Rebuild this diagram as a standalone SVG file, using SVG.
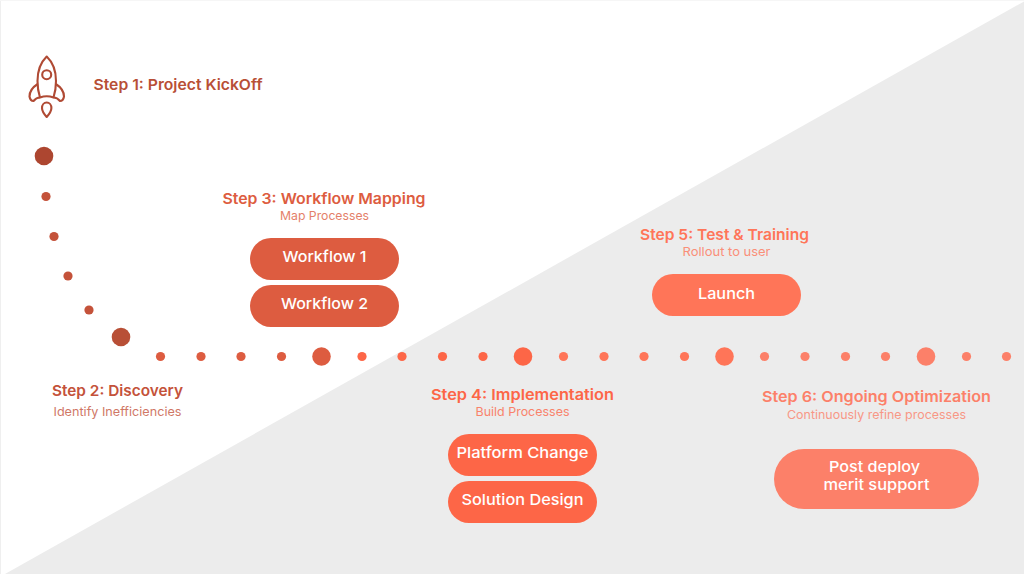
<svg xmlns="http://www.w3.org/2000/svg" width="1024" height="574" viewBox="0 0 1024 574">
<style>
text{font-family:Inter,"Open Sans","Liberation Sans",sans-serif;text-anchor:middle}
.h{font-size:15px;font-weight:600}
.s{font-size:12px;font-weight:400;opacity:.78}
.b{font-size:15px;font-weight:500;fill:#fff}
.c1{fill:#ad4630}.c1b{fill:#b84f36}.c1c{fill:#c4523a}.c2{fill:#dd5c40}.c3{fill:#fd6647}.c4{fill:#ff7558}.c5{fill:#fc8069}
</style>
<rect width="1024" height="574" fill="#fff"/>
<rect width="1" height="574" fill="#efefef"/>
<rect width="1024" height="1" fill="#f6f6f6"/>
<polygon points="1024,1.500 1024,574 5,574" fill="#ececec"/>
<g id="connectors">
<circle class="c1" cx="44" cy="156" r="9.300"/>
<circle class="c1c" cx="46" cy="196.500" r="4.600"/>
<circle class="c1c" cx="54" cy="236.500" r="4.600"/>
<circle class="c1c" cx="68" cy="276" r="4.600"/>
<circle class="c1c" cx="89" cy="310" r="4.600"/>
<circle class="c1b" cx="121" cy="337" r="9.300"/>
<circle class="c2" cx="160.500" cy="356.500" r="4.600"/>
<circle class="c2" cx="201" cy="356.500" r="4.600"/>
<circle class="c2" cx="241" cy="356.500" r="4.600"/>
<circle class="c2" cx="281.500" cy="356.500" r="4.600"/>
<circle class="c2" cx="321.500" cy="356.500" r="9.300"/>
<circle class="c3" cx="362" cy="356.500" r="4.600"/>
<circle class="c3" cx="402" cy="356.500" r="4.600"/>
<circle class="c3" cx="442.500" cy="356.500" r="4.600"/>
<circle class="c3" cx="483" cy="356.500" r="4.600"/>
<circle class="c3" cx="523" cy="356.500" r="9.300"/>
<circle class="c4" cx="563.500" cy="356.500" r="4.600"/>
<circle class="c4" cx="604" cy="356.500" r="4.600"/>
<circle class="c4" cx="644" cy="356.500" r="4.600"/>
<circle class="c4" cx="684.500" cy="356.500" r="4.600"/>
<circle class="c4" cx="724.500" cy="356.500" r="9.300"/>
<circle class="c5" cx="764.500" cy="356.500" r="4.600"/>
<circle class="c5" cx="805" cy="356.500" r="4.600"/>
<circle class="c5" cx="845.500" cy="356.500" r="4.600"/>
<circle class="c5" cx="885.500" cy="356.500" r="4.600"/>
<circle class="c5" cx="926" cy="356.500" r="9.300"/>
<circle class="c5" cx="966.500" cy="356.500" r="4.600"/>
<circle class="c5" cx="1006.500" cy="356.500" r="4.600"/>
</g>
<g id="step1">
<g fill="none" stroke="#b04a34" stroke-width="2.100" stroke-linejoin="round">
<path d="M46.700 56.500C41 62 37.500 71 37.500 81C37.500 87 38.500 93 40 97.500C44 96 49.500 96 53.500 97.500C55 93 56 87 56 81C56 71 52.500 62 46.700 56.500Z"/>
<circle cx="46.700" cy="74.700" r="4.500"/>
<path d="M37.700 84C33 87 29.500 92 29.500 96.500C30 99.500 31.500 101 33.500 101C35.500 98.500 37.500 97.500 40 97.500"/>
<path d="M55.800 84C60.500 87 64 92 64 96.500C63.500 99.500 62 101 60 101C58 98.500 56 97.500 53.500 97.500"/>
<path d="M46.700 117C44 114 42 111.500 42 108C42 105 44 102.500 46.700 102.500C49.400 102.500 51.400 105 51.400 108C51.400 111.500 49.400 114 46.700 117Z"/>
</g>
<text class="h c1b" x="178" y="89.500" textLength="169" lengthAdjust="spacingAndGlyphs">Step 1: Project KickOff</text>
</g>
<g id="step2">
<text class="h c1c" x="117.500" y="396" textLength="131" lengthAdjust="spacingAndGlyphs">Step 2: Discovery</text>
<text class="s c1c" x="117.500" y="416" textLength="128" lengthAdjust="spacingAndGlyphs">Identify Inefficiencies</text>
</g>
<g id="step3">
<text class="h c2" x="324" y="203.500" textLength="203" lengthAdjust="spacingAndGlyphs">Step 3: Workflow Mapping</text>
<text class="s c2" x="324.500" y="220" textLength="89" lengthAdjust="spacingAndGlyphs">Map Processes</text>
<rect class="c2" x="250" y="238" width="149" height="42" rx="21"/>
<text class="b" x="324.500" y="262" textLength="84" lengthAdjust="spacingAndGlyphs">Workflow 1</text>
<rect class="c2" x="250" y="285" width="149" height="42" rx="21"/>
<text class="b" x="324.500" y="309" textLength="87" lengthAdjust="spacingAndGlyphs">Workflow 2</text>
</g>
<g id="step4">
<text class="h c3" x="522.500" y="399.500" textLength="183" lengthAdjust="spacingAndGlyphs">Step 4: Implementation</text>
<text class="s c3" x="522.500" y="416" textLength="94" lengthAdjust="spacingAndGlyphs">Build Processes</text>
<rect class="c3" x="448" y="434" width="149" height="42" rx="21"/>
<text class="b" x="522.500" y="458" textLength="132" lengthAdjust="spacingAndGlyphs">Platform Change</text>
<rect class="c3" x="448" y="481" width="149" height="42" rx="21"/>
<text class="b" x="522.500" y="505" textLength="122" lengthAdjust="spacingAndGlyphs">Solution Design</text>
</g>
<g id="step5">
<text class="h c4" x="724.500" y="239.500" textLength="169" lengthAdjust="spacingAndGlyphs">Step 5: Test &amp; Training</text>
<text class="s c4" x="726.500" y="256" textLength="88" lengthAdjust="spacingAndGlyphs">Rollout to user</text>
<rect class="c4" x="652" y="274" width="149" height="42" rx="21"/>
<text class="b" x="726.500" y="298.500" textLength="57" lengthAdjust="spacingAndGlyphs">Launch</text>
</g>
<g id="step6">
<text class="h c5" x="876.500" y="401.500" textLength="229" lengthAdjust="spacingAndGlyphs">Step 6: Ongoing Optimization</text>
<text class="s c5" x="876.500" y="418.500" textLength="179" lengthAdjust="spacingAndGlyphs">Continuously refine processes</text>
<rect class="c5" x="774" y="449" width="205" height="60" rx="30"/>
<text class="b" x="874.500" y="472" textLength="91" lengthAdjust="spacingAndGlyphs">Post deploy</text>
<text class="b" x="876.500" y="490" textLength="106" lengthAdjust="spacingAndGlyphs">merit support</text>
</g>
</svg>
